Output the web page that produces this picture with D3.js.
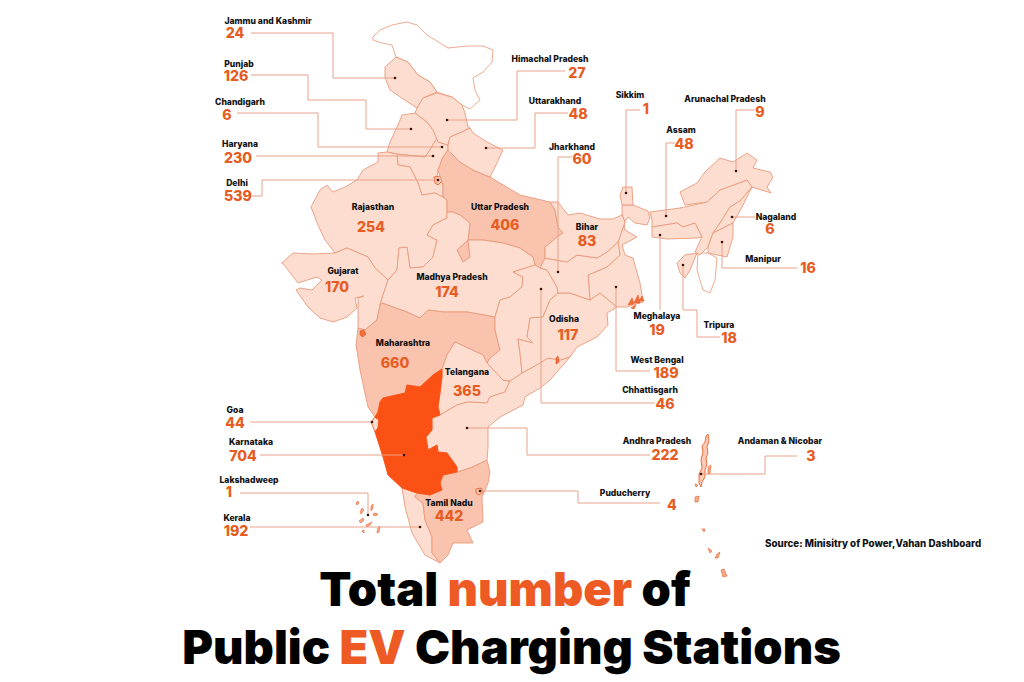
<!DOCTYPE html>
<html>
<head>
<meta charset="utf-8">
<script src="https://cdnjs.cloudflare.com/ajax/libs/d3/7.8.5/d3.min.js"></script>
<style>
html,body{margin:0;padding:0;background:#fff;}
svg{display:block;}
text{font-family:Inter,"Liberation Sans",sans-serif;}
</style>
</head>
<body>
<svg id="map" width="1024" height="682"></svg>
<script>
// values
var states = ["Jammu and Kashmir","Punjab","Chandigarh","Haryana","Delhi","Rajasthan","Uttar Pradesh","Gujarat","Madhya Pradesh","Maharashtra","Telangana","Goa","Karnataka","Lakshadweep","Kerala","Tamil Nadu","Puducherry","Andhra Pradesh","Chhattisgarh","Odisha","West Bengal","Jharkhand","Bihar","Himachal Pradesh","Uttarakhand","Sikkim","Assam","Arunachal Pradesh","Nagaland","Manipur","Meghalaya","Tripura","Andaman & Nicobar"];
var stations = [24,126,6,230,539,254,406,170,174,660,365,44,704,1,192,442,4,222,46,117,189,60,83,27,48,1,48,9,6,16,19,18,3];

// outlines, traced in picture units
var outlines = {
"Jammu and Kashmir":[[385,67],[396,57],[408,62],[418,75],[430,82],[437,92],[423,98],[417,108],[403,99],[390,90],[385,78]],
"Himachal Pradesh":[[417,108],[423,98],[437,93],[452,97],[462,105],[465,113],[468,127],[470,128],[462,132],[450,137],[448,145],[438,142],[433,130],[427,122],[415,113]],
"Uttarakhand":[[450,137],[462,132],[470,128],[473,133],[487,142],[503,150],[497,163],[490,177],[473,170],[460,162],[448,150],[448,145]],
"Punjab":[[402,115],[415,113],[427,122],[433,130],[437,138],[430,150],[425,157],[397,154],[387,152],[390,142],[398,125]],
"Haryana":[[437,138],[438,142],[448,145],[448,150],[443,157],[438,170],[437,177],[443,185],[443,197],[435,193],[422,195],[418,183],[410,167],[398,165],[397,154],[425,157],[430,150]],
"Rajasthan":[[378,153],[387,152],[397,154],[398,165],[410,167],[418,183],[422,195],[435,193],[443,197],[447,200],[447,212],[447,218],[433,225],[427,235],[437,240],[433,257],[423,267],[410,268],[407,247],[399,248],[397,270],[388,280],[375,268],[368,257],[347,248],[335,253],[325,240],[318,225],[311,207],[320,190],[327,185],[333,192],[345,187],[357,180],[363,170],[378,162]],
"Uttar Pradesh":[[448,150],[460,162],[473,170],[490,177],[500,183],[520,195],[550,202],[555,210],[558,227],[563,233],[557,237],[545,247],[545,258],[540,268],[535,265],[533,257],[520,248],[503,243],[483,240],[468,240],[470,257],[463,262],[457,250],[468,240],[470,223],[460,215],[453,212],[447,212],[447,200],[443,197],[443,185],[438,170],[443,157]],
"Madhya Pradesh":[[447,218],[447,212],[453,212],[460,215],[470,223],[468,240],[457,250],[463,262],[470,257],[468,240],[483,240],[503,243],[520,248],[533,257],[535,265],[513,272],[523,277],[522,287],[510,297],[500,300],[495,317],[467,312],[443,312],[428,310],[420,318],[407,312],[382,303],[380,305],[383,295],[388,280],[397,270],[399,248],[407,247],[410,268],[423,267],[433,257],[437,240],[427,235],[433,225]],
"Gujarat":[[282,263],[293,253],[313,254],[335,253],[347,248],[368,257],[375,268],[388,280],[383,295],[380,305],[377,320],[365,330],[358,328],[358,317],[358,298],[364,296],[355,298],[357,308],[347,317],[333,322],[320,318],[308,307],[296,290],[300,288],[312,290],[322,280],[317,277],[298,283],[288,270],[284,265]],
"Maharashtra":[[380,305],[382,303],[407,312],[420,318],[428,310],[443,312],[467,312],[495,317],[495,330],[500,350],[490,358],[487,363],[483,355],[468,348],[455,342],[447,355],[442,369],[433,375],[420,387],[407,385],[405,393],[383,398],[380,402],[378,412],[375,417],[368,407],[360,370],[356,345],[358,328],[365,330],[377,320]],
"Goa":[[375,417],[379,420],[378,428],[375,432],[371,422]],
"Karnataka":[[380,402],[383,398],[405,393],[407,385],[420,387],[433,375],[442,369],[442,377],[440,393],[438,407],[440,415],[432,418],[432,430],[426,437],[428,450],[437,445],[438,452],[447,453],[457,467],[457,472],[443,475],[440,483],[442,490],[430,495],[417,493],[402,488],[388,475],[383,457],[375,432],[378,428],[379,420],[375,417],[378,412]],
"Telangana":[[442,369],[447,355],[455,342],[468,348],[483,355],[487,363],[503,380],[510,381],[505,392],[490,397],[487,403],[468,402],[457,405],[440,415],[438,407],[440,393],[442,377]],
"Andhra Pradesh":[[503,380],[510,381],[522,373],[540,363],[548,358],[560,360],[570,357],[550,380],[540,388],[525,397],[523,405],[500,417],[488,427],[488,447],[487,460],[470,468],[457,472],[457,467],[447,453],[438,452],[437,445],[428,450],[426,437],[432,430],[432,418],[440,415],[457,405],[468,402],[487,403],[490,397],[505,392],[510,381]],
"Tamil Nadu":[[457,472],[470,468],[487,460],[490,472],[488,483],[482,497],[483,522],[467,530],[473,543],[453,543],[448,555],[440,563],[432,553],[432,537],[425,520],[423,503],[415,497],[417,493],[430,495],[442,490],[440,483],[443,475]],
"Kerala":[[402,488],[417,493],[415,497],[423,503],[425,520],[432,537],[432,553],[440,563],[425,555],[412,533],[405,507]],
"Chhattisgarh":[[513,272],[535,265],[540,268],[547,270],[557,287],[558,293],[550,300],[543,317],[530,318],[527,337],[533,343],[518,339],[520,353],[522,373],[510,381],[503,380],[487,363],[490,358],[500,350],[495,330],[495,317],[500,300],[510,297],[522,287],[523,277]],
"Odisha":[[550,300],[558,293],[570,293],[590,300],[600,293],[617,307],[607,313],[608,325],[597,337],[577,347],[570,357],[560,360],[548,358],[540,363],[522,373],[520,353],[518,339],[533,343],[527,337],[530,318],[543,317]],
"Jharkhand":[[540,268],[545,258],[567,262],[577,255],[597,258],[607,252],[618,242],[620,255],[607,267],[588,275],[590,300],[570,293],[558,293],[557,287],[547,270]],
"Bihar":[[550,202],[558,202],[568,215],[580,213],[600,219],[613,219],[622,215],[625,222],[618,242],[607,252],[597,258],[577,255],[567,262],[545,258],[545,247],[557,237],[563,233],[558,227],[555,210]],
"West Bengal":[[622,205],[633,205],[648,211],[650,218],[647,225],[635,223],[628,217],[624,223],[625,230],[637,237],[622,245],[625,255],[633,258],[640,283],[642,295],[643,302],[627,307],[617,307],[600,293],[590,300],[588,275],[607,267],[620,255],[618,242],[625,222],[622,215]],
"Sikkim":[[620,195],[623,187],[632,187],[633,205],[622,205]],
"Assam":[[650,212],[680,208],[707,202],[720,190],[747,180],[752,187],[740,201],[730,207],[720,223],[713,233],[708,247],[700,255],[695,252],[702,237],[695,223],[683,227],[677,223],[652,227],[652,220]],
"Meghalaya":[[652,227],[677,223],[683,227],[695,223],[702,237],[697,238],[667,239],[652,237]],
"Arunachal Pradesh":[[680,192],[697,183],[705,172],[720,158],[733,162],[747,153],[757,160],[753,168],[770,172],[773,177],[767,187],[771,193],[752,187],[747,180],[720,190],[707,202],[685,205]],
"Nagaland":[[752,187],[742,207],[733,223],[713,233],[720,223],[730,207],[740,201]],
"Manipur":[[713,233],[733,223],[733,237],[727,257],[708,253],[708,247]],
"Tripura":[[677,263],[685,255],[697,253],[690,270],[685,278],[680,273]],
"Delhi":[[434,177],[440,176],[442,181],[438,185],[435,183]],
"Chandigarh":[[440,145],[443,145],[443,148],[440,148]],
"Puducherry":[[476,489],[481,488],[483,492],[479,495],[476,493]],
"Andaman & Nicobar":[[706,436],[708,434],[709,441],[707,447],[708,453],[706,458],[707,464],[705,470],[705,477],[702,482],[701,487],[699,483],[699,474],[702,468],[701,460],[703,452],[702,446],[705,442]],
"Lakshadweep":[[368,512],[370,514],[369,518],[367,516]]
};
var blankAreas = [
[[373,37],[380,30],[392,25],[407,22],[417,25],[427,35],[448,48],[467,46],[483,46],[493,50],[492,62],[483,72],[473,78],[475,90],[480,100],[470,109],[462,105],[452,97],[437,92],[430,82],[418,75],[408,62],[396,57],[392,45],[382,43],[373,40]],
[[698,253],[708,253],[717,258],[715,280],[710,293],[703,290],[697,270]]
];
// small islands, drawn with a heavier edge
var specks = [
[[356,503],[358,501],[359,503],[357,505]],[[362,508],[364,510],[361,514],[360,512]],[[371,506],[373,504],[373,508],[371,511]],[[374,513],[378,514],[376,516],[373,515]],[[359,521],[363,518],[364,520],[361,523]],[[366,525],[372,522],[370,525],[367,527]],[[378,528],[380,526],[379,532],[377,533]],[[362,531],[364,530],[364,533]],
[[695,484],[698,485],[696,487]],[[695,497],[699,496],[698,502],[695,502]],[[702,529],[705,529],[704,532]],[[708,548],[712,551],[710,553]],[[717,554],[720,552],[718,558],[715,558]],[[721,570],[724,569],[727,576],[723,577]],[[708,467],[711,465],[710,474],[708,474]]
];
// Sundarbans, Dadra, Yanam: solid orange bits
var hotSpecks = [
[[628,305],[632,298],[634,304]],[[634,303],[638,295],[640,303]],[[639,301],[642,296],[644,301]],[[631,308],[636,305],[634,309]],
[[360,331],[364,330],[366,334],[363,337],[360,335]],[[556,358],[558,356],[559,362],[556,364]]
];

// where each leader runs, first point at the figure, last at the state dot
var leaders = {
"Jammu and Kashmir":[[251,33],[333,33],[333,78],[395,78]],
"Punjab":[[251,75],[308,75],[308,100],[366,100],[366,129],[411,129]],
"Chandigarh":[[237,113],[318,113],[318,147],[442,147]],
"Haryana":[[256,156],[433,156]],
"Delhi":[[252,196],[262,196],[262,180],[438,180]],
"Goa":[[250,422],[372,422]],
"Karnataka":[[260,455],[404,455]],
"Lakshadweep":[[240,493],[368,493],[368,515]],
"Kerala":[[250,527],[420,527]],
"Himachal Pradesh":[[565,71],[517,71],[517,120],[447,120]],
"Uttarakhand":[[568,113],[535,113],[535,148],[486,148]],
"Jharkhand":[[572,157],[558,157],[558,272]],
"Sikkim":[[640,110],[626,110],[626,193]],
"Assam":[[675,143],[666,143],[666,216]],
"Arunachal Pradesh":[[755,110],[736,110],[736,171]],
"Nagaland":[[755,217],[732,217]],
"Manipur":[[797,268],[722,268],[722,242]],
"Meghalaya":[[660,310],[660,235]],
"Tripura":[[720,337],[697,337],[697,310],[683,310],[683,265]],
"West Bengal":[[650,371],[616,371],[616,287]],
"Chhattisgarh":[[655,403],[541,403],[541,289]],
"Andhra Pradesh":[[650,455],[527,455],[527,428],[467,428]],
"Andaman & Nicobar":[[797,456],[765,456],[765,474],[701,474]],
"Puducherry":[[660,503],[578,503],[578,491],[480,491]]
};

// centre of each name and of each figure
var labelAt = {
"Jammu and Kashmir":[268,21,235,33],"Punjab":[239,64,236,76],"Chandigarh":[240,102,227,115],"Haryana":[240,144,238,158],"Delhi":[237,183,238,196],
"Rajasthan":[373,207,371,227],"Uttar Pradesh":[500,207,505,225],"Gujarat":[343,271,337,287],"Madhya Pradesh":[452,277,447,292],"Maharashtra":[403,343,395,363],"Telangana":[467,372,467,391],
"Goa":[235,410,235,423],"Karnataka":[251,442,243,456],"Lakshadweep":[249,480,229,492],"Kerala":[237,518,236,531],"Tamil Nadu":[449,503,449,516],
"Puducherry":[625,493,672,505],"Andhra Pradesh":[657,441,665,455],"Chhattisgarh":[650,390,665,404],"Odisha":[564,319,568,335],"West Bengal":[657,360,666,373],"Jharkhand":[572,147,582,159],"Bihar":[587,227,587,241],
"Himachal Pradesh":[550,59,577,73],"Uttarakhand":[555,101,578,114],"Sikkim":[630,95,646,109],"Assam":[681,130,684,144],"Arunachal Pradesh":[725,99,760,112],"Nagaland":[776,217,770,229],"Manipur":[763,259,808,268],"Meghalaya":[657,316,657,330],"Tripura":[719,325,729,338],"Andaman & Nicobar":[780,441,811,456]
};

var svg = d3.select("#map");
var path = d3.geoPath(d3.geoIdentity());
var shade = d3.scaleThreshold().domain([400,700]).range(["#fcddd0","#f9c3ad","#fb5115"]);
var edge = "#ea9a7c", orange = "#e65c22";

// geoPath drops the last vertex of a ring, so close it first
function ring(pts){ return {type:"Polygon",coordinates:[pts.concat([pts[0]])]}; }

svg.selectAll("path.blank")
	.data(blankAreas)
	.enter().append("path")
	.attr("class","blank")
	.attr("d",function(d){return path(ring(d));})
	.attr("fill","#fff")
	.attr("stroke","#eeac92")
	.attr("stroke-width",1);

svg.selectAll("path.state")
	.data(states.filter(function(s){return s!="Chandigarh" && s!="Lakshadweep" && s!="Andaman & Nicobar" && s!="Puducherry";}))
	.enter().append("path")
	.attr("class","state")
	.attr("d",function(s){return path(ring(outlines[s]));})
	.attr("fill",function(s){return shade(stations[states.indexOf(s)]);})
	.attr("stroke",function(s){return s=="Delhi"||s=="Goa" ? "#e8622e" : edge;})
	.attr("stroke-width",0.9)
	.attr("stroke-linejoin","round");

// Karnataka sits on top so its edge is clean
svg.selectAll("path.state").filter(function(s){return s=="Karnataka";}).attr("stroke","#fb5115").raise();

svg.selectAll("path.speck")
	.data(specks)
	.enter().append("path")
	.attr("class","speck")
	.attr("d",function(d){return path(ring(d));})
	.attr("fill","#f6a98b")
	.attr("stroke","#ec6f3e")
	.attr("stroke-width",0.7);

svg.selectAll("path.hot")
	.data(hotSpecks)
	.enter().append("path")
	.attr("class","hot")
	.attr("d",function(d){return path(ring(d));})
	.attr("fill","#f0703c")
	.attr("stroke","#e8501c")
	.attr("stroke-width",0.6);

["Andaman & Nicobar","Puducherry"].forEach(function(s){
	svg.append("path")
		.attr("d",path(ring(outlines[s])))
		.attr("fill","#fbc9b5")
		.attr("stroke","#e8622e")
		.attr("stroke-width",0.9);
});

var line = d3.line();
svg.selectAll("path.leader")
	.data(Object.keys(leaders))
	.enter().append("path")
	.attr("class","leader")
	.attr("d",function(s){return line(leaders[s]);})
	.attr("fill","none")
	.attr("stroke","#eaa088")
	.attr("stroke-width",1);

svg.selectAll("circle.dot")
	.data(Object.keys(leaders))
	.enter().append("circle")
	.attr("class","dot")
	.attr("cx",function(s){var p=leaders[s];return p[p.length-1][0];})
	.attr("cy",function(s){var p=leaders[s];return p[p.length-1][1];})
	.attr("r",1.3)
	.attr("fill","#3a1408");

svg.selectAll("text.name")
	.data(states)
	.enter().append("text")
	.attr("class","name")
	.attr("x",function(s){return labelAt[s][0];})
	.attr("y",function(s){return labelAt[s][1]+3;})
	.attr("text-anchor","middle")
	.attr("font-size",8.6)
	.attr("font-weight",800)
	.attr("fill","#111")
	.text(function(s){return s;});

svg.selectAll("text.value")
	.data(states)
	.enter().append("text")
	.attr("class","value")
	.attr("x",function(s){return labelAt[s][2];})
	.attr("y",function(s){return labelAt[s][3]+5.2;})
	.attr("text-anchor","middle")
	.attr("font-size",14.2)
	.attr("font-weight",800)
	.attr("fill",orange)
	.text(function(s){return stations[states.indexOf(s)];});

svg.append("text")
	.attr("x",765).attr("y",547)
	.attr("font-size",9.75).attr("font-weight",800).attr("fill","#111")
	.text("Source: Minisitry of Power,Vahan Dashboard");

var titleLines = [
	[["Total ","#000"],["number","#ee5a24"],[" of","#000"]],
	[["Public ","#000"],["EV","#ee5a24"],[" Charging Stations","#000"]]
];
svg.selectAll("text.title")
	.data(titleLines)
	.enter().append("text")
	.attr("class","title")
	.attr("x",function(d,i){return i==0?505:511.5;})
	.attr("y",function(d,i){return i==0?606:664;})
	.attr("text-anchor","middle")
	.attr("font-size",47)
	.attr("font-weight",900)
	.each(function(d){
		d3.select(this).selectAll("tspan")
			.data(d)
			.enter().append("tspan")
			.attr("fill",function(t){return t[1];})
			.text(function(t){return t[0];});
	});
</script>
</body>
</html>
